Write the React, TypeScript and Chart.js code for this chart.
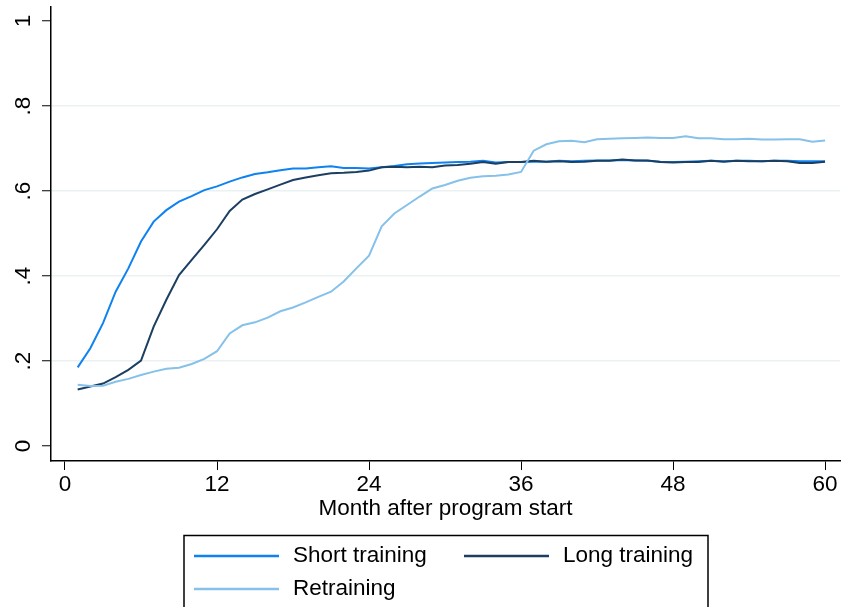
import React, { useEffect, useRef } from "react";
import { Chart, registerables } from "chart.js";

Chart.register(...registerables);

const months = [
  1, 2, 3, 4, 5, 6, 7, 8, 9, 10, 11, 12, 13, 14, 15, 16, 17, 18, 19, 20,
  21, 22, 23, 24, 25, 26, 27, 28, 29, 30, 31, 32, 33, 34, 35, 36, 37, 38, 39, 40,
  41, 42, 43, 44, 45, 46, 47, 48, 49, 50, 51, 52, 53, 54, 55, 56, 57, 58, 59, 60,
];

const shortTraining = [
  0.185, 0.23, 0.289, 0.363, 0.418, 0.481, 0.528, 0.555, 0.575, 0.588,
  0.602, 0.611, 0.622, 0.632, 0.64, 0.644, 0.649, 0.653, 0.653, 0.656,
  0.658, 0.654, 0.654, 0.653, 0.656, 0.659, 0.663, 0.665, 0.666, 0.667,
  0.668, 0.669, 0.671, 0.667, 0.668, 0.668, 0.669, 0.669, 0.671, 0.67,
  0.671, 0.672, 0.672, 0.673, 0.672, 0.671, 0.669, 0.668, 0.669, 0.67,
  0.671, 0.67, 0.671, 0.671, 0.67, 0.671, 0.671, 0.67, 0.67, 0.67,
];

const longTraining = [
  0.133, 0.14, 0.147, 0.162, 0.179, 0.201, 0.281, 0.344, 0.402, 0.438,
  0.473, 0.51, 0.553, 0.58, 0.593, 0.604, 0.615, 0.626, 0.632, 0.637,
  0.642, 0.643, 0.645, 0.648, 0.656, 0.657, 0.656, 0.657, 0.656, 0.66,
  0.661, 0.664, 0.668, 0.664, 0.668, 0.668, 0.671, 0.669, 0.67, 0.668,
  0.669, 0.671, 0.671, 0.674, 0.672, 0.672, 0.668, 0.667, 0.668, 0.668,
  0.671, 0.669, 0.671, 0.67, 0.67, 0.671, 0.67, 0.666, 0.666, 0.669,
];

const retraining = [
  0.144, 0.141, 0.142, 0.151, 0.158, 0.167, 0.175, 0.182, 0.184, 0.193,
  0.205, 0.223, 0.265, 0.284, 0.291, 0.302, 0.317, 0.326, 0.338, 0.351,
  0.363, 0.387, 0.418, 0.448, 0.517, 0.547, 0.567, 0.587, 0.606, 0.614,
  0.624, 0.631, 0.635, 0.636, 0.639, 0.645, 0.695, 0.71, 0.717, 0.718,
  0.715, 0.722, 0.723, 0.724, 0.725, 0.726, 0.725, 0.725, 0.729, 0.724,
  0.724, 0.722, 0.722, 0.723, 0.721, 0.721, 0.722, 0.722, 0.716, 0.719,
];

const xTicks = [0, 12, 24, 36, 48, 60];
const yTicks = [0, 0.2, 0.4, 0.6, 0.8, 1];
const yTickLabels = ["0", ".2", ".4", ".6", ".8", "1"];

const seriesNames = ["Short training", "Long training", "Retraining"];
const seriesColors = ["#0f82f2", "#1c3f61", "#86c1ea"];

const FONT = "'Liberation Sans', Arial, Helvetica, sans-serif";
const FONT_SIZE = 22.5;

const yLabelPlugin = {
  id: "yVerticalLabels",
  afterDraw(chart: any) {
    const ctx = chart.ctx;
    const scale = chart.scales.y;
    ctx.save();
    ctx.font = `${FONT_SIZE}px ${FONT}`;
    ctx.fillStyle = "#000";
    ctx.textAlign = "center";
    ctx.textBaseline = "middle";
    yTicks.forEach((v, i) => {
      const py = scale.getPixelForValue(v);
      ctx.save();
      ctx.translate(23.5, py);
      ctx.rotate(-Math.PI / 2);
      ctx.fillText(yTickLabels[i], 0, 0);
      ctx.restore();
    });
    ctx.restore();
  },
};

const legendPlugin = {
  id: "stataLegend",
  afterDraw(chart: any) {
    const ctx = chart.ctx;
    ctx.save();
    ctx.strokeStyle = "#000";
    ctx.lineWidth = 1.5;
    ctx.strokeRect(184, 535.5, 524, 100);
    const entries = [
      { i: 0, x1: 194, x2: 279, tx: 293, y: 556 },
      { i: 1, x1: 464, x2: 549, tx: 563, y: 556 },
      { i: 2, x1: 194, x2: 279, tx: 293, y: 589 },
    ];
    ctx.font = `${FONT_SIZE}px ${FONT}`;
    ctx.textBaseline = "middle";
    ctx.textAlign = "left";
    for (const e of entries) {
      ctx.strokeStyle = seriesColors[e.i];
      ctx.lineWidth = 2.5;
      ctx.beginPath();
      ctx.moveTo(e.x1, e.y);
      ctx.lineTo(e.x2, e.y);
      ctx.stroke();
      ctx.fillStyle = "#000";
      ctx.fillText(seriesNames[e.i], e.tx, e.y);
    }
    ctx.restore();
  },
};

export default function App() {
  const canvasRef = useRef<HTMLCanvasElement | null>(null);

  useEffect(() => {
    if (!canvasRef.current) return;
    const mk = (vals: number[]) => months.map((m, i) => ({ x: m, y: vals[i] }));
    const chart = new Chart(canvasRef.current, {
      type: "line",
      data: {
        datasets: [
          {
            label: seriesNames[0],
            data: mk(shortTraining),
            borderColor: seriesColors[0],
            borderWidth: 2,
            pointRadius: 0,
            tension: 0,
            order: 2,
          },
          {
            label: seriesNames[1],
            data: mk(longTraining),
            borderColor: seriesColors[1],
            borderWidth: 2,
            pointRadius: 0,
            tension: 0,
            order: 1,
          },
          {
            label: seriesNames[2],
            data: mk(retraining),
            borderColor: seriesColors[2],
            borderWidth: 2,
            pointRadius: 0,
            tension: 0,
            order: 0,
          },
        ],
      },
      options: {
        animation: false,
        responsive: false,
        maintainAspectRatio: false,
        devicePixelRatio: 1,
        layout: { padding: { top: 7, left: 0, right: 1, bottom: 0 } },
        font: { family: FONT, size: FONT_SIZE },
        plugins: {
          legend: { display: false },
          tooltip: { enabled: false },
          title: { display: false },
        },
        scales: {
          x: {
            type: "linear",
            min: -1.105,
            max: 61.18,
            afterBuildTicks: (scale: any) => {
              scale.ticks = xTicks.map((v) => ({ value: v }));
            },
            afterFit: (scale: any) => {
              scale.height = 146;
              scale.paddingLeft = 0;
              scale.paddingRight = 0;
            },
            ticks: {
              color: "#000",
              font: { family: FONT, size: FONT_SIZE },
              padding: 1,
              maxRotation: 0,
              minRotation: 0,
              autoSkip: false,
              callback: (v: any) => String(v),
            },
            grid: {
              drawOnChartArea: false,
              drawTicks: true,
              tickLength: 9,
              tickColor: "#000",
              tickWidth: 1,
            },
            border: { display: true, color: "#000", width: 1.5 },
            title: {
              display: true,
              text: "Month after program start",
              color: "#000",
              font: { family: FONT, size: FONT_SIZE },
              padding: { top: 0, bottom: 84.5 },
            },
          },
          y: {
            type: "linear",
            min: -0.0353,
            max: 1.033,
            afterBuildTicks: (scale: any) => {
              scale.ticks = yTicks.map((v) => ({ value: v }));
            },
            afterFit: (scale: any) => {
              scale.width = 51;
              scale.paddingTop = 0;
              scale.paddingBottom = 0;
            },
            ticks: {
              display: false,
              autoSkip: false,
            },
            grid: {
              color: (c: any) => {
                const v = c.tick ? c.tick.value : null;
                if (v === 0 || v === 1) return "rgba(0,0,0,0)";
                return "#e9f1f3";
              },
              lineWidth: 1.5,
              drawTicks: true,
              tickLength: 9,
              tickColor: "#000",
              tickWidth: 1,
            },
            border: { display: true, color: "#000", width: 1.5 },
          },
        },
      } as any,
      plugins: [yLabelPlugin, legendPlugin],
    });
    return () => chart.destroy();
  }, []);

  return (
    <div style={{ position: "fixed", left: 0, top: 0, width: 841, height: 607, background: "#fff" }}>
      <canvas ref={canvasRef} width={841} height={607} style={{ width: 841, height: 607, display: "block" }} />
    </div>
  );
}
